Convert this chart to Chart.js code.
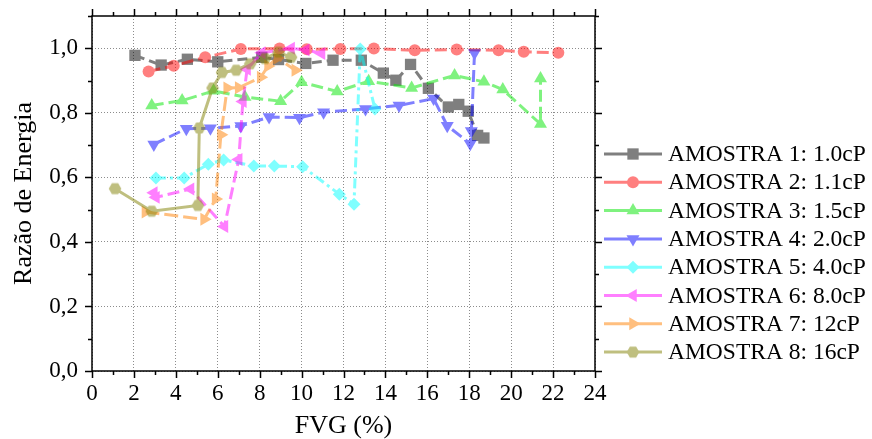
<!DOCTYPE html>
<html><head><meta charset="utf-8">
<script src="https://cdn.jsdelivr.net/npm/chart.js@4.4.1/dist/chart.umd.min.js"></script>
<style>html,body{margin:0;padding:0;background:#fff;}#wrap{width:872px;height:439px;}</style>
</head><body><div id="wrap"><canvas id="c" width="872" height="439"></canvas></div>
<script>
// ---- data ----
const seriesNames = ['AMOSTRA 1: 1.0cP','AMOSTRA 2: 1.1cP','AMOSTRA 3: 1.5cP','AMOSTRA 4: 2.0cP','AMOSTRA 5: 4.0cP','AMOSTRA 6: 8.0cP','AMOSTRA 7: 12cP','AMOSTRA 8: 16cP'];
const s1x = [2.05,3.3,4.55,6.0,8.1,8.9,10.2,11.5,12.85,13.9,14.5,15.2,16.05,17.0,17.5,17.95,18.4,18.7];
const s1y = [0.978,0.948,0.966,0.958,0.972,0.965,0.953,0.963,0.963,0.923,0.901,0.950,0.876,0.818,0.826,0.805,0.730,0.722];
const s2x = [2.7,3.9,5.4,7.1,8.95,10.25,11.85,13.45,15.4,17.4,19.4,20.6,22.25];
const s2y = [0.928,0.946,0.972,0.998,0.999,0.997,0.998,0.999,0.994,0.996,0.994,0.989,0.986];
const s3x = [2.85,4.3,5.8,7.3,9.0,10.0,11.7,13.2,15.25,17.3,18.7,19.6,21.4,21.4];
const s3y = [0.823,0.838,0.868,0.849,0.836,0.895,0.866,0.898,0.877,0.916,0.896,0.872,0.765,0.906];
const s4x = [2.95,4.5,5.65,7.1,8.45,9.9,11.05,13.05,14.65,16.3,16.95,18.05,18.1,18.25];
const s4y = [0.702,0.751,0.752,0.759,0.787,0.785,0.802,0.812,0.823,0.844,0.760,0.704,0.744,0.985];
const s5x = [3.05,4.4,5.55,6.28,7.72,8.7,10.05,11.8,12.5,12.8,13.5];
const s5y = [0.598,0.598,0.641,0.654,0.635,0.635,0.633,0.548,0.517,0.998,0.812];
const s6x = [2.95,3.05,4.7,6.32,7.0,7.2,7.4,8.1,9.5,10.2,10.95];
const s6y = [0.552,0.538,0.564,0.448,0.655,0.835,0.935,0.986,1.0,0.995,0.984];
const s7x = [2.55,5.35,5.9,6.15,6.45,7.0,8.05,8.4,8.85,9.7];
const s7y = [0.493,0.470,0.533,0.732,0.877,0.878,0.910,0.945,0.970,0.932];
const s8x = [1.1,2.85,5.05,5.12,5.75,6.2,6.88,7.55,8.25,8.9,9.5];
const s8y = [0.565,0.495,0.513,0.753,0.877,0.925,0.932,0.952,0.968,0.988,0.972];
const xTickStep = 2, yTickStep = 0.2;

const allX = [s1x,s2x,s3x,s4x,s5x,s6x,s7x,s8x];
const allY = [s1y,s2y,s3y,s4y,s5y,s6y,s7y,s8y];

// ---- styles (opaque; each plot is composited at 50% opacity) ----
const colors = ['rgb(0,0,0)','rgb(255,0,0)','rgb(0,230,0)','rgb(0,0,255)','rgb(0,255,255)','rgb(255,0,255)','rgb(255,128,0)','rgb(128,128,0)'];
const PLOT_ALPHA = 0.5;
const dashes = [[10,5],[12,5],[12,5],[12,5],[10,4,3,4],[12,5],[14,5],[]];

function makeHex(color){
  const c = document.createElement('canvas'); c.width = 14; c.height = 14;
  const g = c.getContext('2d'); const R = 6.3;
  g.fillStyle = color; g.beginPath();
  for (let k=0;k<6;k++){ const a = k*Math.PI/3; const px = 7+R*Math.cos(a), py = 7+R*Math.sin(a); k?g.lineTo(px,py):g.moveTo(px,py);}
  g.closePath(); g.fill(); return c;
}
const hexImg = makeHex(colors[7]);
const pStyles = ['rect','circle','triangle','triangle','rectRot','triangle','triangle',hexImg];
const pRot = [0,0,0,180,0,270,90,0];
const pRad = [8,6,7.5,7.5,6.5,7.5,7.5,6];

const datasets = allX.map((xs,i)=>({
  label: seriesNames[i],
  data: xs.map((v,j)=>({x:v,y:allY[i][j]})),
  showLine: true,
  borderColor: colors[i], borderWidth: 3, borderDash: dashes[i],
  backgroundColor: colors[i],
  pointBackgroundColor: colors[i], pointBorderWidth: 0, pointBorderColor: 'rgba(0,0,0,0)',
  pointStyle: pStyles[i], pointRotation: pRot[i], pointRadius: pRad[i], pointHoverRadius: pRad[i],
  tension: 0, order: 8 - i
}));

const FONT = "'Liberation Serif','Times New Roman',serif";

function drawMarker(ctx, i, x, y){
  const st = pStyles[i], r = pRad[i], rot = pRot[i]*Math.PI/180;
  ctx.fillStyle = colors[i];
  if (st === hexImg){ ctx.drawImage(hexImg, x-7, y-7); return; }
  ctx.beginPath();
  if (st === 'rect'){ const s = Math.SQRT1_2*r; ctx.rect(x-s,y-s,2*s,2*s); }
  else if (st === 'circle'){ ctx.arc(x,y,r,0,2*Math.PI); }
  else if (st === 'rectRot'){ ctx.moveTo(x-r,y); ctx.lineTo(x,y-r); ctx.lineTo(x+r,y); ctx.lineTo(x,y+r); ctx.closePath(); }
  else { let a = rot; for (let k=0;k<3;k++){ const px = x+Math.sin(a)*r, py = y-Math.cos(a)*r; k?ctx.lineTo(px,py):ctx.moveTo(px,py); a += 2*Math.PI/3; } ctx.closePath(); }
  ctx.fill();
}

// offscreen layer so each plot gets group transparency
const off = document.createElement('canvas'); off.width = 872; off.height = 439;
const octx = off.getContext('2d');

const groupAlphaPlugin = {
  id: 'groupAlpha',
  beforeDatasetDraw(chart, args){
    const c = args.meta.controller;
    octx.setTransform(1,0,0,1,0,0);
    octx.clearRect(0,0,off.width,off.height);
    octx.save();
    const a = chart.chartArea;
    octx.beginPath(); octx.rect(a.left-10, a.top-10, a.right-a.left+20, a.bottom-a.top+20); octx.clip();
    c._origCtx = c._ctx; c._ctx = octx;
  },
  afterDatasetDraw(chart, args){
    const c = args.meta.controller;
    octx.restore();
    c._ctx = c._origCtx;
    const ctx = chart.ctx;
    ctx.save(); ctx.globalAlpha = PLOT_ALPHA; ctx.drawImage(off,0,0); ctx.restore();
  }
};

const framePlugin = {
  id: 'frame',
  afterDraw(chart){
    const {ctx, chartArea: a, scales: {x, y}} = chart;
    ctx.save();
    ctx.strokeStyle = '#000'; ctx.lineWidth = 1.5;
    ctx.strokeRect(a.left, a.top, a.right-a.left, a.bottom-a.top);
    ctx.beginPath();
    for (let v=0; v<=24; v++){
      const px = Math.round(x.getPixelForValue(v))+0.5; const len = v%2===0?7:4;
      ctx.moveTo(px,a.bottom); ctx.lineTo(px,a.bottom+len);
      ctx.moveTo(px,a.top); ctx.lineTo(px,a.top-len);
    }
    for (let k=0; k<=11; k++){
      const py = Math.round(y.getPixelForValue(k/10))+0.5; const len = k%2===0?7:4;
      ctx.moveTo(a.left,py); ctx.lineTo(a.left-len,py);
      ctx.moveTo(a.right,py); ctx.lineTo(a.right+len,py);
    }
    ctx.stroke();
    // legend
    for (let i=0;i<seriesNames.length;i++){
      const ly = 154 + i*28.3;
      octx.setTransform(1,0,0,1,0,0);
      octx.clearRect(0,0,off.width,off.height);
      octx.strokeStyle = colors[i]; octx.lineWidth = 3; octx.setLineDash([]);
      octx.beginPath(); octx.moveTo(604,ly); octx.lineTo(662,ly); octx.stroke();
      drawMarker(octx,i,633,ly);
      ctx.save(); ctx.globalAlpha = PLOT_ALPHA; ctx.drawImage(off,0,0); ctx.restore();
      ctx.font = '23.5px ' + FONT; ctx.textBaseline = 'middle'; ctx.textAlign = 'left';
      ctx.fillStyle = '#000'; ctx.fillText(seriesNames[i], 668, ly+1);
    }
    ctx.restore();
  }
};

new Chart(document.getElementById('c'), {
  type: 'scatter',
  data: { datasets },
  options: {
    responsive: false, animation: false, events: [], devicePixelRatio: 1,
    layout: { padding: { left: 0, top: 16, right: 277, bottom: 0 } },
    plugins: { legend: { display: false }, tooltip: { enabled: false } },
    scales: {
      x: {
        type: 'linear', min: 0, max: 24,
        afterFit(s){ s.height = 68; s.paddingLeft = 0; s.paddingRight = 0; },
        grid: { drawTicks: false, color: 'rgba(0,0,0,0.45)', lineWidth: 1 },
        border: { display: false, dash: [1,2] },
        ticks: { stepSize: xTickStep, maxRotation: 0, autoSkip: false, padding: 9, color: '#000', font: { family: FONT, size: 23 } },
        title: { display: true, text: 'FVG (%)', color: '#000', font: { family: FONT, size: 26, lineHeight: 1 }, padding: { top: 0, bottom: 0 } }
      },
      y: {
        type: 'linear', min: 0, max: 1.1,
        afterFit(s){ s.width = 92; s.paddingTop = 0; s.paddingBottom = 0; },
        grid: { drawTicks: false, color: 'rgba(0,0,0,0.45)', lineWidth: 1 },
        border: { display: false, dash: [1,2] },
        ticks: { stepSize: yTickStep, includeBounds: false, padding: 14, color: '#000', font: { family: FONT, size: 23 },
          callback: v => v.toFixed(1).replace('.', ',') },
        title: { display: true, text: 'Razão de Energia', color: '#000', font: { family: FONT, size: 26, lineHeight: 1 }, padding: { top: 11, bottom: 0 } }
      }
    }
  },
  plugins: [groupAlphaPlugin, framePlugin]
});
</script></body></html>
